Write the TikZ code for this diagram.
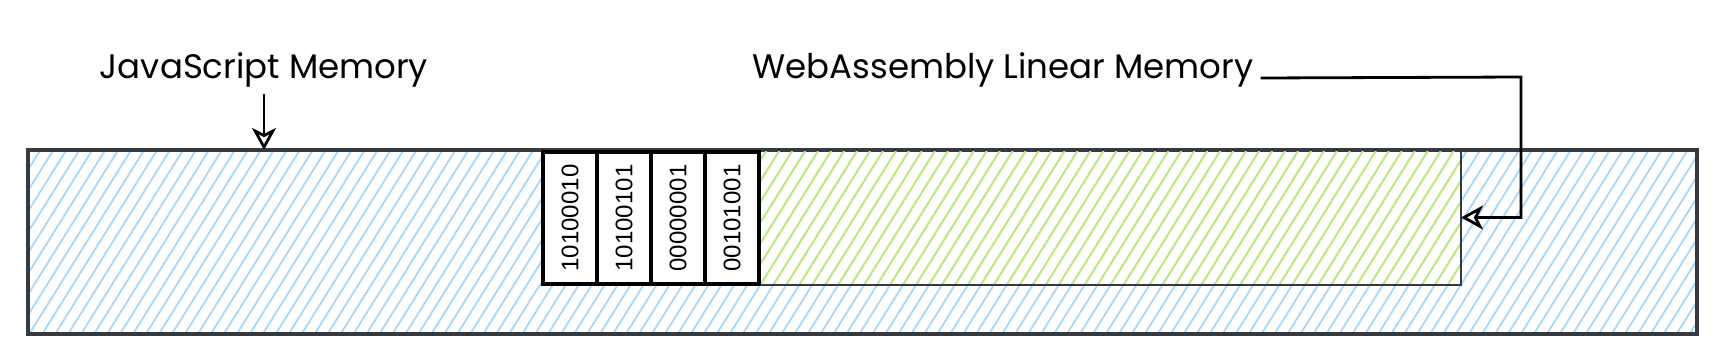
\documentclass[tikz,border=0pt]{standalone}
\usepackage{fontspec}
\setmainfont{Poppins}
\newfontfamily\bitsfont{Liberation Sans}
\usepackage{xcolor}
\usetikzlibrary{arrows.meta, positioning, patterns.meta}
\definecolor{jsblue}{HTML}{A5D8FF}
\definecolor{wasmgreen}{HTML}{C0EB75}
\definecolor{edgegray}{HTML}{343A40}

\begin{document}
\begin{tikzpicture}[x=50pt, y=50pt, every node/.style={font=\fontsize{17}{20}\selectfont}]
  \tikzset{
    region/.style={draw=edgegray, line width=1.6pt, inner sep=0pt, outer sep=0pt, anchor=south west},
    hatch/.style={pattern={Lines[angle=58, distance=5.5pt, line width=0.9pt]}, pattern color=#1},
    cellbox/.style={draw=black, fill=white, line width=1.6pt, inner sep=0pt, outer sep=0pt,
      anchor=south west, minimum width=27pt, minimum height=66pt,
      font=\bitsfont\fontsize{12}{12}\selectfont},
    conn/.style={draw=black, line width=1.4pt, -{Stealth[open, length=11pt, width=12pt, inset=3pt]}}
  }
  \useasboundingbox (0,0) rectangle (17.18,3.60);
  % memory regions
  \node[region, hatch=jsblue, minimum width=834.5pt, minimum height=92pt] (jsmem) at (0.28,0.26) {};
  \node[region, hatch=wasmgreen, line width=1.4pt, minimum width=459pt, minimum height=67.5pt] (linear) at (5.43,0.75) {};
  % bytes
  \foreach \bits [count=\i] in {10100010,10100101,00000001,00101001}
    \node[cellbox] (cell\i) at ({5.43+0.54*(\i-1)},0.76) {\rotatebox{90}{\bits}};
  % labels
  \node[anchor=base] (jslabel) at (2.64,2.82) {JavaScript Memory};
  \node[anchor=base] (walabel) at (10.03,2.82) {WebAssembly Linear Memory};
  \coordinate (bend) at (15.21,2.83);
  \draw[conn] (jslabel.south) -- (jslabel.south |- jsmem.north);
  \draw[conn] (walabel.base east) -- (bend) |- (linear.east);
\end{tikzpicture}
\end{document}
